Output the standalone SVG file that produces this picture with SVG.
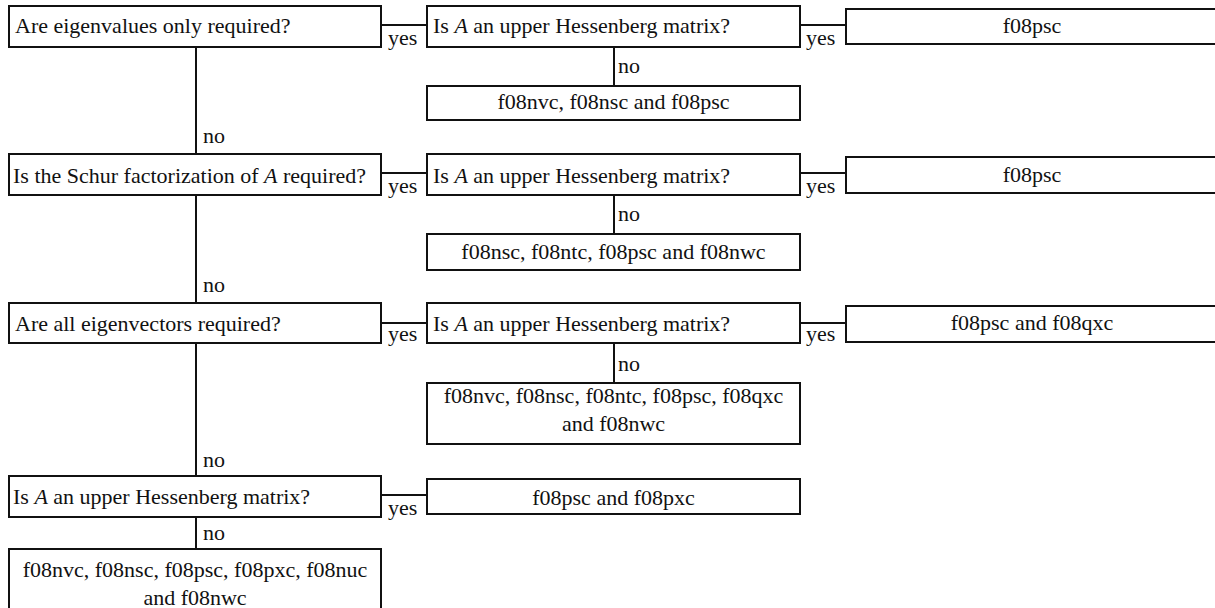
<svg xmlns="http://www.w3.org/2000/svg" width="1215" height="608" viewBox="0 0 1215 608" font-family="'Liberation Serif', 'Tinos', 'DejaVu Serif', serif" font-size="22">
<style>
.box{fill:#fff;stroke:#111;stroke-width:2}
.ln{stroke:#111;stroke-width:2;fill:none}
text{fill:#111}
.c{text-anchor:middle}
.i{font-style:italic}
</style>
<rect width="1215" height="608" fill="#fff"/>
<g id="connectors" class="ln">
<path d="M381 25H427M800 25H846M614 47V86"/>
<path d="M196 47V154M381 173H427M800 173H846M614 195V234"/>
<path d="M196 195V303M381 323H427M800 323H846M614 343V383"/>
<path d="M196 343V476M381 495H427M196 517V549"/>
</g>
<g id="labels">
<text x="388" y="45">yes</text>
<text x="806" y="45">yes</text>
<text x="618" y="73">no</text>
<text x="203" y="143">no</text>
<text x="388" y="193">yes</text>
<text x="806" y="193">yes</text>
<text x="618" y="221">no</text>
<text x="203" y="292">no</text>
<text x="388" y="341">yes</text>
<text x="806" y="341">yes</text>
<text x="618" y="371">no</text>
<text x="203" y="467">no</text>
<text x="388" y="515">yes</text>
<text x="203" y="540">no</text>
</g>
<g id="q1"><rect class="box" x="9" y="6" width="372" height="41"/><text x="15" y="33">Are eigenvalues only required?</text></g>
<g id="q1h"><rect class="box" x="427" y="6" width="373" height="41"/><text x="433" y="33">Is <tspan class="i">A</tspan> an upper Hessenberg matrix?</text></g>
<g id="r1y"><rect class="box" x="846" y="9" width="380" height="35"/><text class="c" x="1032" y="33">f08psc</text></g>
<g id="r1n"><rect class="box" x="427" y="86" width="373" height="34"/><text class="c" x="613.5" y="109">f08nvc, f08nsc and f08psc</text></g>

<g id="q2"><rect class="box" x="9" y="154" width="372" height="41"/><text x="13" y="183">Is the Schur factorization of <tspan class="i">A</tspan> required?</text></g>
<g id="q2h"><rect class="box" x="427" y="154" width="373" height="41"/><text x="433" y="183">Is <tspan class="i">A</tspan> an upper Hessenberg matrix?</text></g>
<g id="r2y"><rect class="box" x="846" y="157" width="380" height="36"/><text class="c" x="1032" y="182">f08psc</text></g>
<g id="r2n"><rect class="box" x="427" y="234" width="373" height="36"/><text class="c" x="613.5" y="259">f08nsc, f08ntc, f08psc and f08nwc</text></g>

<g id="q3"><rect class="box" x="9" y="303" width="372" height="40"/><text x="15" y="331">Are all eigenvectors required?</text></g>
<g id="q3h"><rect class="box" x="427" y="303" width="373" height="40"/><text x="433" y="331">Is <tspan class="i">A</tspan> an upper Hessenberg matrix?</text></g>
<g id="r3y"><rect class="box" x="846" y="306" width="380" height="36"/><text class="c" x="1032" y="330">f08psc and f08qxc</text></g>
<g id="r3n"><rect class="box" x="427" y="383" width="373" height="61"/><text class="c" x="613.5" y="403">f08nvc, f08nsc, f08ntc, f08psc, f08qxc</text><text class="c" x="613.5" y="431">and f08nwc</text></g>

<g id="q4"><rect class="box" x="9" y="476" width="372" height="41"/><text x="13" y="504">Is <tspan class="i">A</tspan> an upper Hessenberg matrix?</text></g>
<g id="r4y"><rect class="box" x="427" y="479" width="373" height="35"/><text class="c" x="613.5" y="505">f08psc and f08pxc</text></g>
<g id="r4n"><rect class="box" x="9" y="549" width="372" height="70"/><text class="c" x="195" y="577">f08nvc, f08nsc, f08psc, f08pxc, f08nuc</text><text class="c" x="195" y="605">and f08nwc</text></g>
</svg>
